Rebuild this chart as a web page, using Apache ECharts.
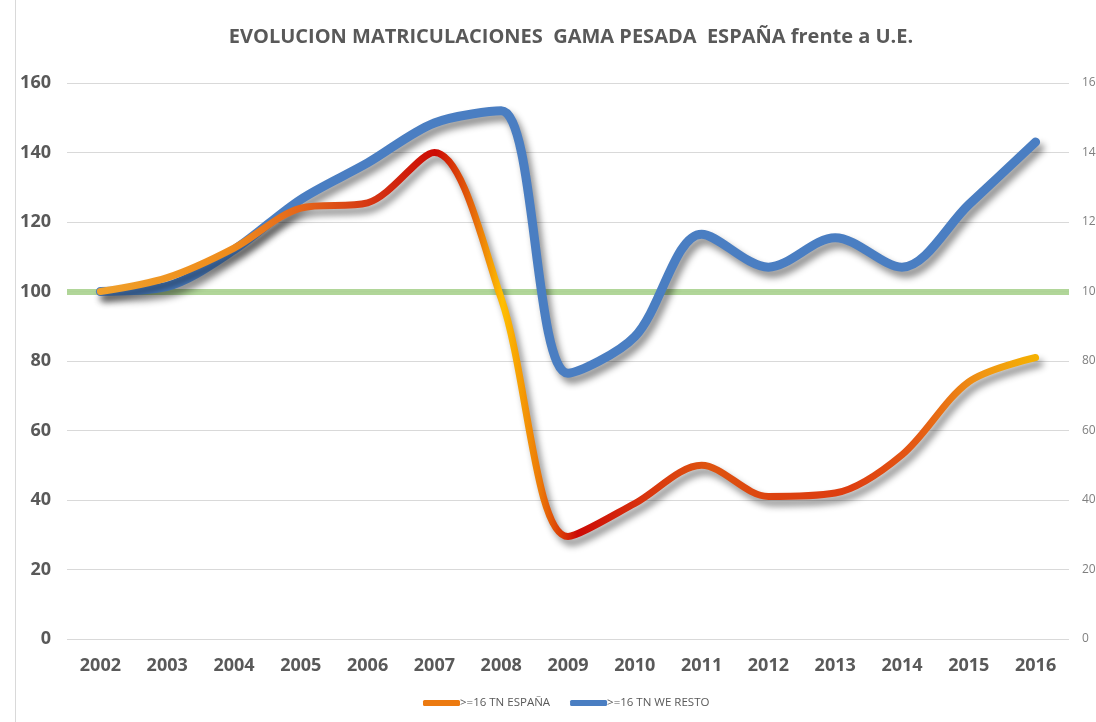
<!DOCTYPE html>
<html>
<head>
<meta charset="utf-8">
<script src="https://cdn.jsdelivr.net/npm/echarts@6/dist/echarts.min.js"></script>
<style>
  html, body { margin: 0; padding: 0; background: #fff; overflow: hidden; }
  #chart { width: 1096px; height: 722px; }
</style>
</head>
<body>
<div id="chart"></div>
<script>
// data
const years = ["2002", "2003", "2004", "2005", "2006", "2007", "2008", "2009",
  "2010", "2011", "2012", "2013", "2014", "2015", "2016"];
const espana = [100, 104, 112.5, 124, 125.5, 140, 98, 29.5, 39, 50, 41, 42, 53, 74, 81];
const weResto = [100, 101.5, 112, 126.5, 137, 148.5, 152, 76.5, 87, 116.5, 107, 115.5, 107, 125, 143];
const referenceLevel = 100;
const yTicks = [0, 20, 40, 60, 80, 100, 120, 140, 160];

const gray = "#595959";
const font = "'Open Sans', 'Noto Sans', sans-serif";

const chart = echarts.init(document.getElementById("chart"));

const espanaGradient = new echarts.graphic.LinearGradient(0, 0, 1, 0, [
  { offset: 0, color: "#f0a02a" },
  { offset: 0.14, color: "#ef8c1c" },
  { offset: 0.22, color: "#e4641a" },
  { offset: 0.3, color: "#d33012" },
  { offset: 0.36, color: "#cc0a04" },
  { offset: 0.4, color: "#e66a0a" },
  { offset: 0.43, color: "#ffbf00" },
  { offset: 0.47, color: "#ec7a08" },
  { offset: 0.51, color: "#cc0a06" },
  { offset: 0.58, color: "#d8340e" },
  { offset: 0.65, color: "#de5410" },
  { offset: 0.72, color: "#dc4210" },
  { offset: 0.8, color: "#de3e10" },
  { offset: 0.87, color: "#e45a14" },
  { offset: 0.94, color: "#f09614" },
  { offset: 1, color: "#f5b200" },
]);

const lineShadow = {
  shadowColor: "rgba(0,0,0,0.45)",
  shadowBlur: 7,
  shadowOffsetX: 4,
  shadowOffsetY: 6,
};

chart.setOption({
  animation: false,
  backgroundColor: "#fff",
  title: {
    text: "EVOLUCION MATRICULACIONES  GAMA PESADA  ESPAÑA frente a U.E.",
    left: 566,
    textAlign: "center",
    top: 22,
    textStyle: { color: gray, fontSize: 20, fontWeight: "bold", fontFamily: font },
  },
  legend: {
    bottom: 8,
    left: 418,
    itemWidth: 37,
    itemHeight: 6,
    itemGap: 20,
    icon: "roundRect",
    textStyle: { color: gray, fontSize: 11.5, fontFamily: font, padding: [0, 0, 0, -5] },
    data: [
      { name: ">=16 TN ESPAÑA", itemStyle: { color: "#ec7a10" } },
      { name: ">=16 TN WE RESTO", itemStyle: { color: "#4a7ec2" } },
    ],
  },
  grid: { left: 67, right: 27, top: 83, bottom: 83, outerBoundsMode: "none", containLabel: false },
  xAxis: {
    type: "category",
    data: years,
    boundaryGap: true,
    axisLine: { show: false },
    axisTick: { show: false },
    axisLabel: { color: gray, fontSize: 18, fontWeight: "bold", fontFamily: font, margin: 18 },
  },
  yAxis: [
    {
      type: "value",
      min: yTicks[0],
      max: yTicks[yTicks.length - 1],
      interval: 20,
      axisLabel: { color: gray, fontSize: 18, fontWeight: "bold", fontFamily: font, margin: 16 },
      splitLine: { lineStyle: { color: "#d9d9d9", width: 1 } },
    },
    {
      type: "value",
      position: "right",
      min: yTicks[0],
      max: yTicks[yTicks.length - 1],
      interval: 20,
      axisLabel: { color: "#7f7f7f", fontSize: 12, fontFamily: font, margin: 13, align: "left" },
      splitLine: { show: false },
    },
  ],
  series: [
    {
      name: ">=16 TN WE RESTO",
      type: "line",
      data: weResto,
      smooth: 0.32,
      showSymbol: false,
      z: 3,
      lineStyle: Object.assign({ color: "#4a7ec2", width: 9, cap: "round", join: "round" }, lineShadow),
      markLine: {
        silent: true,
        symbol: "none",
        label: { show: false },
        lineStyle: { color: "#a9d18e", type: "solid", width: 6, opacity: 0.9 },
        data: [{ yAxis: referenceLevel }],
        z: 1,
      },
    },
    {
      name: ">=16 TN ESPAÑA",
      type: "line",
      data: espana,
      smooth: 0.32,
      showSymbol: false,
      z: 4,
      lineStyle: Object.assign({ color: espanaGradient, width: 7, cap: "round", join: "round" }, lineShadow),
    },
  ],
  graphic: [
    {
      type: "line",
      shape: { x1: 15.5, y1: 0, x2: 15.5, y2: 722 },
      style: { stroke: "#d9d9d9", lineWidth: 1 },
    },
  ],
});
</script>
</body>
</html>
